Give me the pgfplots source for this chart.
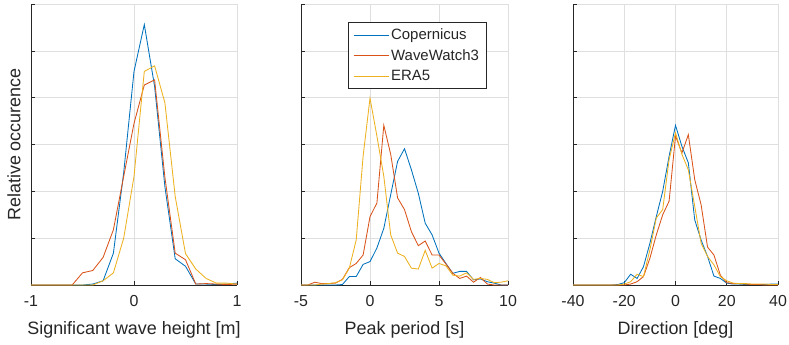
\documentclass[border=0pt]{standalone}
\usepackage{pgfplots}
\pgfplotsset{compat=1.18}
\usepackage{fontspec}
\setmainfont{Liberation Sans}
\definecolor{mblue}{rgb}{0,0.447,0.741}
\definecolor{morange}{rgb}{0.85,0.325,0.098}
\definecolor{myellow}{rgb}{0.929,0.694,0.125}
\definecolor{mgrid}{rgb}{0.875,0.875,0.875}
\definecolor{maxis}{rgb}{0.15,0.15,0.15}
\pgfplotsset{
  panel/.style={
    scale only axis, width=206bp, height=281bp,
    ymin=0, ymax=6, ytick={0,1,2,3,4,5,6}, yticklabels={},
    axis x line*=bottom, axis y line*=left,
    axis line style={maxis, line width=0.6bp},
    grid=major, major grid style={mgrid, line width=0.6bp},
    major tick length=4bp, tick style={maxis, line width=0.6bp},
    /pgf/number format/assume math mode=true,
    ticklabel style={font=\fontsize{16}{18}\selectfont, text=black!85},
    xticklabel style={anchor=base, yshift=-21bp},
    every axis x label/.style={at={(axis description cs:0.5,0)}, anchor=base, yshift=-49bp, font=\fontsize{18}{20}\selectfont, text=black!85},
    every axis y label/.style={at={([xshift=-17bp]axis description cs:0,0.5)}, rotate=90, anchor=center, font=\fontsize{18}{20}\selectfont, text=black!85},
    every axis plot/.append style={line width=0.85bp, no markers},
    clip=false,
  },
}
\begin{document}
\begin{tikzpicture}[x=1bp,y=1bp]
\useasboundingbox (0,0) rectangle (789,344);
% Panel 1
\begin{axis}[panel, at={(31bp,59bp)}, anchor=south west,
  xmin=-1, xmax=1, xtick={-1,0,1},
  xlabel={Significant wave height [m]}, ylabel={Relative occurence}]
\addplot[mblue] coordinates {(-1,0)(-0.9,0)(-0.8,0)(-0.7,0)(-0.6,0)(-0.5,0)(-0.4,0.02)(-0.3,0.09)(-0.2,0.68)(-0.1,2.4)(0,4.56)(0.1,5.56)(0.2,4.24)(0.3,2.1)(0.4,0.56)(0.5,0.4)(0.6,0.02)(0.7,0.02)(0.8,0.01)(0.9,0.02)(1,0.04)};
\addplot[morange] coordinates {(-1,0)(-0.9,0)(-0.8,0)(-0.7,0)(-0.6,0)(-0.5,0.26)(-0.4,0.31)(-0.3,0.59)(-0.2,1.18)(-0.1,2.32)(0,3.45)(0.1,4.27)(0.2,4.38)(0.3,2.3)(0.4,0.68)(0.5,0.54)(0.6,0.02)(0.7,0.03)(0.8,0.02)(0.9,0.01)(1,0.02)};
\addplot[myellow] coordinates {(-1,0)(-0.9,0)(-0.8,0)(-0.7,0)(-0.6,0)(-0.5,0)(-0.4,0)(-0.3,0.09)(-0.2,0.26)(-0.1,1.0)(0,2.32)(0.1,4.56)(0.2,4.68)(0.3,3.89)(0.4,1.89)(0.5,0.67)(0.6,0.34)(0.7,0.14)(0.8,0.04)(0.9,0.04)(1,0.02)};
\end{axis}
% Panel 2
\begin{axis}[panel, at={(301bp,59bp)}, anchor=south west, width=207bp,
  xmin=-5, xmax=10, xtick={-5,0,5,10},
  xlabel={Peak period [s]},
  legend cell align=left,
  legend image code/.code={\draw[#1, line width=0.85bp] (0bp,0bp) -- (35bp,0bp);},
  legend style={at={(0.227,0.936)}, anchor=north west, draw=black!85, line width=0.6bp,
    font=\fontsize{15}{17}\selectfont, text=black!85, row sep=4.5bp, inner xsep=5bp, inner ysep=4.5bp,
    nodes={inner sep=2bp}}]
\addplot[mblue] coordinates {(-5,0)(-4.5,0)(-4,0)(-3.5,0)(-3,0)(-2.5,0)(-2,0.01)(-1.5,0.18)(-1,0.18)(-0.5,0.44)(0,0.5)(0.5,0.79)(1,1.21)(1.5,1.93)(2,2.64)(2.5,2.91)(3,2.46)(3.5,1.96)(4,1.32)(4.5,1.07)(5,0.68)(5.5,0.46)(6,0.25)(6.5,0.29)(7,0.29)(7.5,0.11)(8,0.13)(8.5,0.07)(9,0.04)(9.5,0)(10,0)};
\addlegendentry{Copernicus}
\addplot[morange] coordinates {(-5,0)(-4.5,0)(-4,0.06)(-3.5,0.03)(-3,0.03)(-2.5,0.04)(-2,0.12)(-1.5,0.37)(-1,0.46)(-0.5,0.64)(0,1.46)(0.5,1.75)(1,3.41)(1.5,2.79)(2,1.86)(2.5,1.61)(3,1.14)(3.5,0.84)(4,0.94)(4.5,0.64)(5,0.64)(5.5,0.45)(6,0.25)(6.5,0.14)(7,0.19)(7.5,0.06)(8,0.16)(8.5,0.02)(9,0)(9.5,0)(10,0)};
\addlegendentry{WaveWatch3}
\addplot[myellow] coordinates {(-5,0)(-4.5,0)(-4,0)(-3.5,0.02)(-3,0.03)(-2.5,0.05)(-2,0.11)(-1.5,0.36)(-1,0.96)(-0.5,2.75)(0,3.99)(0.5,3.18)(1,2.32)(1.5,1.07)(2,0.68)(2.5,0.61)(3,0.36)(3.5,0.34)(4,0.74)(4.5,0.36)(5,0.46)(5.5,0.41)(6,0.21)(6.5,0.19)(7,0.26)(7.5,0.12)(8,0.14)(8.5,0.12)(9,0.05)(9.5,0.06)(10,0.09)};
\addlegendentry{ERA5}
\end{axis}
% Panel 3
\begin{axis}[panel, at={(573bp,59bp)}, anchor=south west, width=205bp,
  xmin=-40, xmax=40, xtick={-40,-20,0,20,40},
  xlabel={Direction [deg]}]
\addplot[mblue] coordinates {(-40,0)(-37.5,0)(-35,0)(-32.5,0)(-30,0)(-27.5,0)(-25,0)(-22.5,0.01)(-20,0.05)(-17.5,0.23)(-15,0.14)(-12.5,0.39)(-10,0.89)(-7.5,1.46)(-5,2.0)(-2.5,2.75)(0,3.41)(2.5,2.96)(5,2.61)(7.5,1.39)(10,0.96)(12.5,0.61)(15,0.19)(17.5,0.14)(20,0.04)(22.5,0.02)(25,0.02)(27.5,0.01)(30,0.01)(32.5,0.01)(35,0.01)(37.5,0.02)(40,0.02)};
\addplot[morange] coordinates {(-40,0)(-37.5,0)(-35,0)(-32.5,0)(-30,0)(-27.5,0)(-25,0)(-22.5,0)(-20,0)(-17.5,0.02)(-15,0.07)(-12.5,0.18)(-10,0.57)(-7.5,1.07)(-5,1.5)(-2.5,1.79)(0,3.18)(2.5,2.82)(5,3.21)(7.5,2.25)(10,1.71)(12.5,0.81)(15,0.64)(17.5,0.21)(20,0.05)(22.5,0.03)(25,0.03)(27.5,0.02)(30,0.01)(32.5,0.01)(35,0)(37.5,0)(40,0)};
\addplot[myellow] coordinates {(-40,0)(-37.5,0)(-35,0)(-32.5,0)(-30,0)(-27.5,0)(-25,0)(-22.5,0)(-20,0.02)(-17.5,0.07)(-15,0.23)(-12.5,0.18)(-10,0.75)(-7.5,1.43)(-5,1.61)(-2.5,2.68)(0,3.25)(2.5,2.79)(5,2.46)(7.5,1.68)(10,0.89)(12.5,0.61)(15,0.43)(17.5,0.18)(20,0.09)(22.5,0.04)(25,0.03)(27.5,0.03)(30,0.02)(32.5,0.02)(35,0.02)(37.5,0.01)(40,0.01)};
\end{axis}
\end{tikzpicture}
\end{document}
